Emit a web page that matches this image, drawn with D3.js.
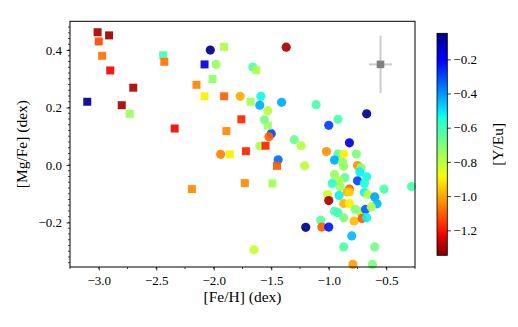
<!DOCTYPE html>
<html>
<head>
<meta charset="utf-8">
<script src="https://cdn.jsdelivr.net/npm/d3@7"></script>
<style>
  html, body { margin: 0; padding: 0; background: #fff; }
  svg { display: block; }
  svg text { font-family: "Liberation Serif", serif; }
</style>
</head>
<body>
<svg id="chart" width="518" height="327"></svg>
<script>
// ---- Data ----
// Square markers: [Fe/H], [Mg/Fe], [Y/Eu]
const sqFeH  = [-3.01, -2.91, -3.00, -2.97, -2.90, -2.70, -3.10, -2.80, -2.73, -2.34,
                -2.44, -2.43, -1.91, -2.08, -2.01, -2.15, -2.08, -1.91, -1.68, -1.76,
                -1.89, -1.63, -1.86, -1.72, -1.73, -2.19, -1.55, -1.53, -1.45, -1.49];
const sqMgFe = [0.462, 0.451, 0.430, 0.380, 0.329, 0.269, 0.220, 0.208, 0.178, 0.127,
                0.382, 0.359, 0.411, 0.350, 0.299, 0.279, 0.239, 0.239, 0.220, 0.159,
                0.118, 0.330, 0.037, 0.048, -0.063, -0.084, 0.067, 0.137, -0.003, -0.064];
const sqYEu  = [-1.30, -1.31, -1.13, -1.07, -1.22, -1.29, -0.07, -1.30, -0.75, -1.22,
                -0.61, -1.07, -0.78, -0.15, -0.73, -1.05, -0.90, -1.10, -0.75, -1.18,
                -1.04, -0.78, -0.90, -1.18, -1.04, -1.04, -1.18, -0.74, -1.11, -0.76];

// Circle markers
const ciFeH  = [-2.03, -1.98, -1.77, -1.66, -1.37, -1.59, -1.60, -1.53, -1.41, -1.11,
                -1.56, -1.50, -1.52, -1.60, -1.30, -1.24, -1.44, -1.21, -1.00, -0.92,
                -0.67, -0.82, -1.94, -1.65,
                -1.02, -0.92, -0.87, -0.76, -0.95, -0.88, -0.87, -0.75, -0.72, -0.73,
                -0.67, -0.95, -0.86, -0.91, -0.75, -0.97, -0.69, -0.90, -0.52, -0.82,
                -0.84, -0.82, -0.69, -1.01, -0.91, -0.66, -0.60, -1.00, -0.87, -0.82,
                -0.58, -0.95, -0.92, -0.87, -0.77, -0.73, -0.68, -0.63, -0.78, -0.71,
                -0.67, -1.07, -1.06, -1.00, -1.20, -0.80, -0.87, -0.60, -0.79, -0.62, -0.28];
const ciMgFe = [0.400, 0.350, 0.239, 0.341, 0.410, 0.239, 0.208, 0.189, 0.218, 0.210,
                0.157, 0.109, 0.098, 0.066, 0.088, 0.067, 0.018, -0.003, 0.138, 0.159,
                0.178, 0.077, 0.037, -0.295,
                0.047, 0.038, 0.038, 0.038, 0.017, 0.009, -0.004, -0.002, -0.009, -0.024,
                -0.041, -0.033, -0.044, -0.055, -0.055, -0.064, -0.064, -0.076, -0.084, -0.084,
                -0.094, -0.094, -0.096, -0.103, -0.106, -0.103, -0.111, -0.124, -0.134, -0.134,
                -0.135, -0.161, -0.166, -0.184, -0.154, -0.163, -0.154, -0.146, -0.195, -0.186,
                -0.184, -0.192, -0.216, -0.216, -0.217, -0.247, -0.285, -0.285, -0.346, -0.346, -0.075];
const ciYEu  = [-0.06, -0.74, -0.99, -0.62, -1.30, -0.53, -0.43, -0.80, -0.43, -0.62,
                -0.68, -0.30, -1.10, -0.78, -0.67, -0.79, -0.35, -0.80, -0.29, -0.62,
                -0.07, -0.16, -1.05, -0.81,
                -1.03, -0.62, -0.90, -0.70, -0.43, -0.72, -0.74, -1.03, -0.72, -0.52,
                -0.53, -0.75, -0.65, -0.77, -0.30, -0.57, -0.55, -0.75, -0.62, -1.10,
                -0.98, -0.94, -0.52, -0.82, -0.52, -0.80, -0.42, -1.30, -0.98, -0.90,
                -0.45, -0.62, -0.60, -0.70, -0.70, -0.73, -0.33, -0.78, -0.97, -1.11,
                -0.52, -0.64, -1.10, -0.24, -0.06, -0.45, -0.63, -0.68, -1.01, -0.70, -0.62];

// Representative error bar
const errFeH = [-0.55], errMgFe = [0.35], errX = [0.1], errY = [0.1];

// Ticks
const xTicks = [-3.0, -2.5, -2.0, -1.5, -1.0, -0.5];
const yTicks = [-0.2, 0.0, 0.2, 0.4];
const cTicks = [-1.2, -1.0, -0.8, -0.6, -0.4, -0.2];
const cMin = -1.346, cMax = -0.048;

// ---- Layout ----
const L = 70, R = 415, T = 21.3, B = 267;
const CBx = 437, CBw = 10.3, CBt = 33.3, CBb = 255.3;

const svg = d3.select("#chart");
const font = "Liberation Serif, serif";

const x = d3.scaleLinear().domain([-3.25, -0.25]).range([L, R]);
const y = d3.scaleLinear().domain([-0.355, 0.5]).range([B, T]);
const cy = d3.scaleLinear().domain([cMin, cMax]).range([CBb, CBt]);

// matplotlib jet
function interp(pts, t) {
  for (let i = 1; i < pts.length; i++) {
    if (t <= pts[i][0]) {
      const [x0, y0] = pts[i-1], [x1, y1] = pts[i];
      return y0 + (y1 - y0) * (t - x0) / (x1 - x0);
    }
  }
  return pts[pts.length-1][1];
}
const jr = [[0,0],[0.35,0],[0.66,1],[0.89,1],[1,0.5]];
const jg = [[0,0],[0.125,0],[0.375,1],[0.64,1],[0.91,0],[1,0]];
const jb = [[0,0.5],[0.11,1],[0.34,1],[0.65,0],[1,0]];
function jet(t) {
  t = Math.max(0, Math.min(1, t));
  return d3.rgb(255*interp(jr,t), 255*interp(jg,t), 255*interp(jb,t)).formatHex();
}
// reversed: high [Y/Eu] -> dark blue, low -> dark red
const color = v => jet((cMax - v) / (cMax - cMin));

// ---- Error bar ----
const eg = svg.append("g");
errFeH.forEach((fx, i) => {
  eg.append("line").attr("x1", x(fx)).attr("x2", x(fx))
    .attr("y1", y(errMgFe[i] - errY[i])).attr("y2", y(errMgFe[i] + errY[i]))
    .attr("stroke", "#cccccc").attr("stroke-width", 2);
  eg.append("line").attr("x1", x(fx - errX[i])).attr("x2", x(fx + errX[i]))
    .attr("y1", y(errMgFe[i])).attr("y2", y(errMgFe[i]))
    .attr("stroke", "#cccccc").attr("stroke-width", 2);
  eg.append("rect").attr("x", x(fx) - 3.8).attr("y", y(errMgFe[i]) - 3.8)
    .attr("width", 7.6).attr("height", 7.6).attr("fill", "#808080");
});

// ---- Circles ----
const circles = ciFeH.map((d, i) => ({fx: d, mg: ciMgFe[i], c: ciYEu[i]}));
svg.append("g").selectAll("circle").data(circles).join("circle")
  .attr("cx", d => x(d.fx)).attr("cy", d => y(d.mg)).attr("r", 4.6)
  .attr("fill", d => color(d.c)).attr("fill-opacity", 0.92);

// ---- Squares ----
const squares = sqFeH.map((d, i) => ({fx: d, mg: sqMgFe[i], c: sqYEu[i]}));
const s = 8;
svg.append("g").selectAll("rect").data(squares).join("rect")
  .attr("x", d => x(d.fx) - s/2).attr("y", d => y(d.mg) - s/2)
  .attr("width", s).attr("height", s)
  .attr("fill", d => color(d.c)).attr("fill-opacity", 0.92);

// ---- Axes ----
const fmt = d3.format(".1f");
const xMinor = d3.range(-3.25, -0.24, 0.25).map(v => +v.toFixed(2));
const yMinor = d3.range(-0.34, 0.5, 0.02).map(v => +v.toFixed(2));
const styleAxis = g => {
  g.attr("font-family", font);
  g.select(".domain").remove();
  g.selectAll("text").attr("font-family", font).attr("font-size", 13).attr("fill", "#000");
  g.selectAll(".tick line").attr("stroke-width", 0.8);
};

const gx = svg.append("g").attr("transform", `translate(0,${B})`);
gx.selectAll("line.minor").data(xMinor).join("line").attr("class","minor")
  .attr("x1", d => x(d)).attr("x2", d => x(d)).attr("y1", 0).attr("y2", 2)
  .attr("stroke", "#000").attr("stroke-width", 0.7);
gx.call(d3.axisBottom(x).tickValues(xTicks).tickFormat(fmt).tickSize(3.5).tickPadding(5).tickSizeOuter(0))
  .call(styleAxis);

const gy = svg.append("g").attr("transform", `translate(${L},0)`);
gy.selectAll("line.minor").data(yMinor).join("line").attr("class","minor")
  .attr("y1", d => y(d)).attr("y2", d => y(d)).attr("x1", 0).attr("x2", -2)
  .attr("stroke", "#000").attr("stroke-width", 0.7);
gy.call(d3.axisLeft(y).tickValues(yTicks).tickFormat(fmt).tickSize(3.5).tickPadding(4.5).tickSizeOuter(0))
  .call(styleAxis);

// frame
svg.append("rect").attr("x", L).attr("y", T).attr("width", R - L).attr("height", B - T)
  .attr("fill", "none").attr("stroke", "#000").attr("stroke-width", 1);

// axis labels
svg.append("text").attr("x", (L + R) / 2).attr("y", 302).attr("text-anchor", "middle")
  .attr("font-family", font).attr("font-size", 15.5).text("[Fe/H] (dex)");
svg.append("text").attr("transform", `translate(27,${(T + B) / 2}) rotate(-90)`)
  .attr("text-anchor", "middle")
  .attr("font-family", font).attr("font-size", 15.5).text("[Mg/Fe] (dex)");

// ---- Colorbar ----
const defs = svg.append("defs");
const grad = defs.append("linearGradient").attr("id", "cbgrad")
  .attr("x1", 0).attr("y1", 1).attr("x2", 0).attr("y2", 0);
d3.range(0, 1.0001, 0.02).forEach(f => {
  grad.append("stop").attr("offset", f).attr("stop-color", jet(1 - f));
});
svg.append("rect").attr("x", CBx).attr("y", CBt).attr("width", CBw).attr("height", CBb - CBt)
  .attr("fill", "url(#cbgrad)").attr("stroke", "#000").attr("stroke-width", 0.8);
const gc = svg.append("g").attr("transform", `translate(${CBx + CBw},0)`);
gc.call(d3.axisRight(cy).tickValues(cTicks).tickFormat(fmt).tickSize(3.5).tickPadding(2.5).tickSizeOuter(0))
  .call(styleAxis);
svg.append("text").attr("transform", `translate(503,${(CBt + CBb) / 2}) rotate(-90)`)
  .attr("text-anchor", "middle")
  .attr("font-family", font).attr("font-size", 15.5).text("[Y/Eu]");
</script>
</body>
</html>
